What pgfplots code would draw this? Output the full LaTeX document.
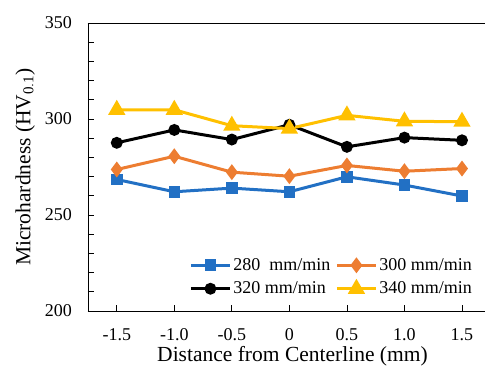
\documentclass[border=0pt]{standalone}
\usepackage{pgfplots}
\pgfplotsset{compat=1.18}
\usepackage{fontspec}
\setmainfont{Liberation Serif}
\usetikzlibrary{calc}
\definecolor{cblue}{HTML}{2270C4}
\definecolor{corange}{HTML}{ED7D31}
\definecolor{cyellow}{HTML}{FFC000}
\begin{document}
\begin{tikzpicture}
\begin{axis}[
  scale only axis,
  width=397pt, height=288pt,
  xmin=-1.75, xmax=1.70,
  ymin=200, ymax=350,
  axis x line*=box, axis y line*=left,
  xtick pos=bottom, ytick pos=left,
  xtick={-1.5,-1,-0.5,0,0.5,1,1.5},
  xticklabels={-1.5,-1.0,-0.5,0,0.5,1.0,1.5},
  ytick={200,250,300,350},
  minor y tick num=4,
  tick align=inside,
  major tick length=6pt, minor tick length=6pt,
  tick style={black, line width=0.8pt},
  axis line style={black, line width=0.8pt},
  /pgf/number format/assume math mode=true,
  ticklabel style={font=\fontsize{18}{21}\selectfont},
  xticklabel style={anchor=base, yshift=-30pt},
  yticklabel style={anchor=east, inner sep=0pt, xshift=-16pt},
  xlabel={Distance from Centerline (mm)},
  ylabel={Microhardness (HV$_{\mathrm{0.1}}$)},
  label style={font=\fontsize{21.5}{25}\selectfont},
  xlabel style={at={(axis description cs:0.515,0)}, anchor=base, yshift=-51pt},
  ylabel style={at={(axis description cs:-0.125,0.5)}, anchor=south},
  legend columns=2,
  legend cell align=left,
  legend style={draw=none, fill=none, inner sep=0pt,
    at={(axis description cs:0.255,0.118)}, anchor=west,
    font=\fontsize{18}{21}\selectfont,
    /tikz/every even column/.append style={column sep=3pt},
    row sep=6pt},
  legend image code/.code={\draw[mark repeat=2,mark phase=2,#1] plot coordinates {(0pt,0pt)(19.5pt,0pt)(39pt,0pt)};},
  every axis plot/.append style={line width=3pt, mark options={solid, line width=0.5pt}},
  clip=false,
]
\coordinate (ll) at (rel axis cs:0,0);
\coordinate (ur) at (rel axis cs:1,1);
\addplot[cblue, mark=square*, mark size=4.3pt, mark options={fill=cblue}] coordinates {
(-1.5,268.5) (-1,262.1) (-0.5,264.0) (0,262.1) (0.5,269.9) (1,265.6) (1.5,259.9)};
\addlegendentry{280\ \ mm/min}
\addplot[corange, mark=diamond*, mark size=5.5pt, mark options={fill=corange}] coordinates {
(-1.5,273.7) (-1,280.6) (-0.5,272.3) (0,270.2) (0.5,275.8) (1,272.8) (1.5,274.2)};
\addlegendentry{300 mm/min}
\addplot[black, mark=*, mark size=4.4pt, mark options={fill=black}] coordinates {
(-1.5,287.6) (-1,294.3) (-0.5,289.3) (0,297.0) (0.5,285.5) (1,290.3) (1.5,288.9)};
\addlegendentry{320 mm/min}
\addplot[cyellow, mark=triangle*, mark size=7pt, mark options={fill=cyellow}] coordinates {
(-1.5,304.8) (-1,304.8) (-0.5,296.5) (0,295.0) (0.5,301.9) (1,298.8) (1.5,298.6)};
\addlegendentry{340 mm/min}
\end{axis}
\pgfresetboundingbox
\useasboundingbox ($(ll)+(-88pt,-61pt)$) rectangle ($(ur)+(0pt,23pt)$);
\end{tikzpicture}
\end{document}
